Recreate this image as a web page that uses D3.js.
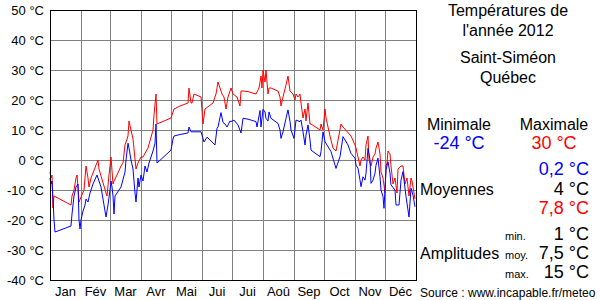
<!DOCTYPE html>
<html>
<head>
<meta charset="utf-8">
<script src="https://cdn.jsdelivr.net/npm/d3@7"></script>
<style>
  body { margin: 0; background: #fff; }
  svg { display: block; font-family: "Liberation Sans", Arial, sans-serif; }
</style>
</head>
<body>
<div id="chart"></div>
<script>
// month names and lengths (2012 is a leap year)
const months = ['Jan', 'Fév', 'Mar', 'Avr', 'Mai', 'Jui', 'Jui', 'Aoû', 'Sep', 'Oct', 'Nov', 'Déc'];
const monthDays = [31, 29, 31, 30, 31, 30, 31, 31, 30, 31, 30, 31];
const yTicks = [50, 40, 30, 20, 10, 0, -10, -20, -30, -40];

// daily maxima (day of year, °C)
const maxDays = [0, 1, 2, 3, 4, 21, 22, 24, 26, 27, 28, 29, 34, 36, 38, 39, 41, 48, 49, 56, 57, 59, 61, 63, 64, 67, 71, 73, 75, 78, 79, 81, 83, 86, 88, 91, 93, 98, 103, 104, 106, 107, 121, 124, 130, 138, 139, 141, 142, 144, 151, 153, 155, 159, 163, 166, 168, 170, 172, 174, 176, 178, 180, 181, 183, 187, 190, 191, 193, 198, 206, 209, 211, 212, 213, 215, 216, 218, 219, 221, 228, 230, 231, 233, 236, 238, 240, 243, 245, 246, 248, 250, 251, 253, 255, 256, 258, 260, 261, 270, 271, 273, 275, 276, 280, 283, 286, 291, 293, 301, 305, 306, 308, 310, 311, 313, 315, 316, 318, 319, 321, 323, 325, 326, 328, 330, 331, 333, 335, 336, 337, 338, 340, 341, 343, 345, 347, 348, 351, 353, 355, 357, 359, 361, 362, 363, 365];
const maxTemps = [-4, -6, -5, -16, -12, -15, -12, -10, -6, -5, -9, -14, -10, -2, -6, -9, -6, 0, -3, -11, -12, -5, 1, -8, -7, -5, -2, -1, 5, 8, 13, 10, 7, -3, -1, 1, 1, 4, 10, 15, 22, 12, 14, 17, 18, 19, 24, 19, 19, 22, 21, 12, 17, 18, 19, 22, 26, 24, 22, 21, 17, 21, 23, 24, 22, 21, 18, 23, 23, 22.8, 22, 24, 28, 24, 30, 26, 30, 22, 24, 24, 23, 21, 18, 21, 25, 28, 23, 22, 20, 22, 21, 22, 19, 14, 17, 13, 19, 12, 12, 10, 12, 10, 17, 14, 8, 4, 3, 12, 11, 8, 5, 4, 1, -2, 0, 1, 0, 5, 8, 0, -2, 1, 2, 4, 6, 2, -4, -6, -11, -2, -1, 3, 2, -2, -8, -6, -11, -3, -2, -2, -8, -6, -12, -6, -7, -9, -13];

// daily minima (day of year, °C)
const minDays = [0, 1, 2, 3, 4, 5, 21, 22, 24, 26, 28, 29, 30, 31, 33, 35, 36, 38, 40, 43, 47, 51, 54, 56, 58, 60, 61, 62, 63, 64, 65, 71, 75, 76, 78, 79, 81, 83, 85, 86, 87, 88, 89, 91, 93, 95, 97, 99, 103, 105, 106, 107, 121, 123, 124, 130, 138, 139, 141, 143, 151, 154, 157, 160, 165, 167, 168, 171, 173, 175, 177, 180, 181, 184, 188, 191, 193, 198, 206, 207, 210, 211, 213, 215, 216, 218, 219, 221, 228, 230, 231, 233, 236, 238, 240, 241, 244, 246, 250, 251, 253, 255, 256, 258, 260, 261, 270, 271, 273, 275, 281, 286, 290, 293, 298, 301, 305, 306, 308, 310, 311, 313, 315, 316, 318, 320, 321, 323, 325, 326, 328, 330, 331, 333, 334, 336, 338, 340, 341, 345, 346, 349, 351, 353, 356, 359, 361, 363, 365];
const minTemps = [-6, -8, -7, -13, -20, -24, -22, -18, -12, -9, -8, -20, -23, -20, -17, -15, -13, -14, -11, -8, -5, -9, -15, -19, -15, -10, -7, -9, -12, -18, -12, -9, -4, 0, 5.6, 4, 0, -3, -11, -14, -10, -6, -9, -5, -7, -2, -4, -1, 3, 5.6, 12, -1, 3.3, 7, 8, 8.5, 9, 11, 9.4, 9.4, 9.4, 6, 7.6, 6.7, 5, 10.6, 11, 15.8, 12.5, 12, 11, 13, 12.8, 13.3, 11.7, 9, 13.9, 13.6, 12.8, 11, 16.5, 11, 16.9, 16, 13.9, 13, 16, 13.9, 12.2, 10, 7.2, 9.4, 13.9, 16.7, 12.8, 10, 7.2, 13.3, 12.8, 13.3, 9.4, 5, 8.3, 11.7, 6.7, 3.3, 1.1, 2.8, 9.4, 6.1, 2.8, -2.8, 1.1, 7.8, 5, 2.2, 0.6, -1.7, -2.8, -6.7, -8.9, -5.6, -6.7, -4.4, 3.9, 0, -7.8, -6.7, -4.4, -1.7, 0.6, -5.6, -10, -12.2, -16.1, -3.3, -0.6, -4.4, -8.3, -10, -15, -15, -6.7, -3.9, -12.2, -19, -9.4, -11.7, -15.6];

// summary panel
const titleLines = ['Températures de', "l'année 2012"];
const placeLines = ['Saint-Siméon', 'Québec'];
const extremes = [{ label: 'Minimale', value: '-24 °C', color: '#0000ff' }, { label: 'Maximale', value: '30 °C', color: '#ff0000' }];
const means = [{ value: '0,2 °C', color: '#0000ff' }, { value: '4 °C', color: '#000' }, { value: '7,8 °C', color: '#ff0000' }];
const amplitudes = [{ label: 'min.', value: '1 °C' }, { label: 'moy.', value: '7,5 °C' }, { label: 'max.', value: '15 °C' }];
const source = 'Source : www.incapable.fr/meteo';

const width = 600, height = 300;
const margin = { top: 10, right: 184, bottom: 20, left: 50 };

const svg = d3.select('#chart').append('svg')
  .attr('width', width)
  .attr('height', height);

const x = d3.scaleLinear()
  .domain([0, d3.sum(monthDays)])
  .range([margin.left, width - margin.right]);

const y = d3.scaleLinear()
  .domain([-40, 50])
  .range([height - margin.bottom, margin.top]);

const bounds = [0, ...d3.cumsum(monthDays)];

// grid
svg.append('g')
  .selectAll('line')
  .data(yTicks.slice(1, -1))
  .join('line')
  .attr('x1', x(0)).attr('x2', x(bounds[12]))
  .attr('y1', d => Math.round(y(d)) + 0.5).attr('y2', d => Math.round(y(d)) + 0.5)
  .attr('stroke', '#808080');

svg.append('g')
  .selectAll('line')
  .data(bounds.slice(1, -1))
  .join('line')
  .attr('x1', d => Math.round(x(d)) + 0.5).attr('x2', d => Math.round(x(d)) + 0.5)
  .attr('y1', y(50)).attr('y2', y(-40))
  .attr('stroke', '#808080');

// y labels
svg.append('g')
  .selectAll('text')
  .data(yTicks)
  .join('text')
  .attr('x', margin.left - 6)
  .attr('y', d => y(d) + 5)
  .attr('text-anchor', 'end')
  .attr('font-size', '13px')
  .attr('fill', '#000')
  .text(d => `${d} °C`);

// month labels
svg.append('g')
  .selectAll('text')
  .data(months)
  .join('text')
  .attr('x', (d, i) => x((bounds[i] + bounds[i + 1]) / 2))
  .attr('y', 296)
  .attr('text-anchor', 'middle')
  .attr('font-size', '13px')
  .text(d => d);

// series
const line = d3.line()
  .x(d => x(d[0]))
  .y(d => y(d[1]));

svg.append('path')
  .datum(d3.zip(maxDays, maxTemps))
  .attr('d', line)
  .attr('fill', 'none')
  .attr('stroke', '#ff0000')
  .attr('stroke-width', 1);

svg.append('path')
  .datum(d3.zip(minDays, minTemps))
  .attr('d', line)
  .attr('fill', 'none')
  .attr('stroke', '#0000ff')
  .attr('stroke-width', 1);

// frame
svg.append('rect')
  .attr('x', x(0) + 0.5)
  .attr('y', y(50) + 0.5)
  .attr('width', x(bounds[12]) - x(0))
  .attr('height', y(-40) - y(50))
  .attr('fill', 'none')
  .attr('stroke', '#000');

// right panel
const panel = svg.append('g');
const cx = 508;

panel.selectAll('.title')
  .data(titleLines.concat(placeLines))
  .join('text')
  .attr('x', cx)
  .attr('y', (d, i) => [16, 36, 63, 83][i])
  .attr('text-anchor', 'middle')
  .attr('font-size', '16px')
  .text(d => d);

extremes.forEach((d, i) => {
  const px = i === 0 ? 459 : 554;
  panel.append('text')
    .attr('x', px).attr('y', 130)
    .attr('text-anchor', 'middle')
    .attr('font-size', '16px')
    .text(d.label);
  panel.append('text')
    .attr('x', px).attr('y', 149)
    .attr('text-anchor', 'middle')
    .attr('font-size', '18px')
    .attr('fill', d.color)
    .text(d.value);
});

panel.selectAll('.mean')
  .data(means)
  .join('text')
  .attr('x', 589)
  .attr('y', (d, i) => 175 + i * 19.5)
  .attr('text-anchor', 'end')
  .attr('font-size', '18px')
  .attr('fill', d => d.color)
  .text(d => d.value);

panel.append('text')
  .attr('x', 420).attr('y', 195)
  .attr('font-size', '16px')
  .text('Moyennes');

amplitudes.forEach((d, i) => {
  const by = 240 + i * 19;
  panel.append('text')
    .attr('x', 505).attr('y', by)
    .attr('font-size', '11px')
    .text(d.label);
  panel.append('text')
    .attr('x', 589).attr('y', by)
    .attr('text-anchor', 'end')
    .attr('font-size', '18px')
    .text(d.value);
});

panel.append('text')
  .attr('x', 420).attr('y', 259)
  .attr('font-size', '16px')
  .text('Amplitudes');

panel.append('text')
  .attr('x', 420).attr('y', 297)
  .attr('font-size', '12px')
  .text(source);
</script>
</body>
</html>
